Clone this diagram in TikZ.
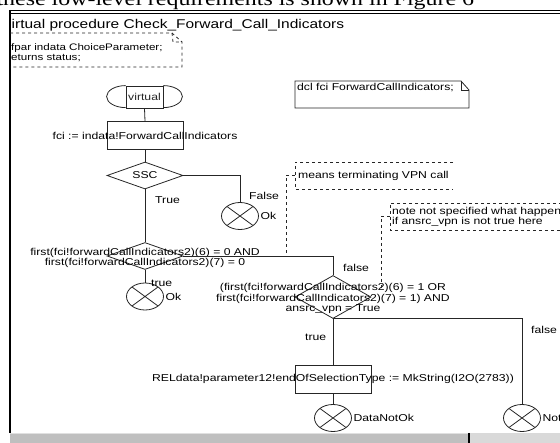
\documentclass[tikz,border=0pt]{standalone}
\usepackage{fontspec}
\setmainfont{Liberation Serif}
\newfontfamily\sdlfont[FakeStretch=1.22]{Liberation Sans}
\newfontfamily\docfont[FakeStretch=1.22]{Liberation Serif}
\usetikzlibrary{shapes.geometric}

\begin{document}
\begin{tikzpicture}[x=1pt, y=-1pt,
		every node/.style={font=\sdlfont\fontsize{10}{10.5}\selectfont, inner sep=0pt},
		sdlline/.style={line width=0.8pt, color=black!85},
		taskbox/.style={draw, sdlline, rectangle, minimum width=76pt, minimum height=28pt},
		decision/.style={draw, sdlline, diamond, minimum width=76pt, minimum height=27pt},
		stopsym/.style={draw, sdlline, ellipse, minimum width=37pt, minimum height=27pt,
			path picture={\draw[sdlline] (path picture bounding box.north west) -- (path picture bounding box.south east)
				(path picture bounding box.north east) -- (path picture bounding box.south west);}},
		commentline/.style={sdlline, dash pattern=on 3pt off 3pt}]
			%%%%% START %%%%%
			\useasboundingbox (0, 0) rectangle (560, 443);
			
			\node[anchor=base west, font=\docfont\fontsize{19.6}{20}\selectfont] (doctext) at (-3.6, 5.5) {these low-level requirements is shown in Figure 6};
			
			\draw[line width=1.3pt] (10, 10.6) -- (562, 10.6);
			\draw[line width=0.8pt] (10, 13.4) -- (562, 13.4);
			\draw[line width=2pt] (10, 9.8) -- (10, 433);
			
			\node[anchor=base west, font=\sdlfont\fontsize{12.7}{13}\selectfont] (title) at (11.5, 29) {irtual procedure Check\_Forward\_Call\_Indicators};
			
			\draw[commentline] (10, 33) -- (172, 33) -- (182, 42) -- (182, 67) -- (10, 67);
			\draw[commentline] (172, 33) -- (173, 42) -- (182, 42);
			\node[anchor=base west, align=left, font=\sdlfont\fontsize{9.5}{10.5}\selectfont] (fpar) at (11, 61) {fpar indata ChoiceParameter;\\eturns status;};
			
			\draw[sdlline] (295, 81) -- (461, 81) -- (469, 90) -- (469, 108) -- (295, 108) -- cycle;
			\draw[sdlline] (461, 81) -- (461, 90) -- (469, 90);
			\node[anchor=base west] (dcl) at (297, 91) {dcl fci ForwardCallIndicators;};
			
			% start symbol
			\node[draw, sdlline, minimum width=37pt, minimum height=22pt] (start) at (144.5, 97) {virtual};
			\draw[sdlline] (start.north west) arc[start angle=90, end angle=270, x radius=19pt, y radius=11pt];
			\draw[sdlline] (start.north east) arc[start angle=90, end angle=-90, x radius=19pt, y radius=11pt];
			
			\node[taskbox, label={center:fci := indata!ForwardCallIndicators}] (assign) at (145, 135.5) {};
			\node[decision, label={center:SSC}] (ssc) at (145, 175.5) {};
			\node[stopsym, label={[xshift=1.5pt]east:Ok}] (okA) at (240, 216) {};
			
			\node[decision, label={[align=center, yshift=-2pt]center:first(fci!forwardCallIndicators2)(6) = 0 AND\\first(fci!forwardCallIndicators2)(7) = 0}] (firstzero) at (145, 256) {};
			\node[stopsym, label={[xshift=1.5pt]east:Ok}] (okB) at (145, 296.5) {};
			
			\node[decision, minimum height=43pt, label={[align=center, yshift=-1.5pt]center:(first(fci!forwardCallIndicators2)(6) = 1 OR\\first(fci!forwardCallIndicators2)(7) = 1) AND\\ansrc\_vpn = True}] (vpncheck) at (333, 297) {};
			
			\node[taskbox, label={center:RELdata!parameter12!endOfSelectionType := MkString(I2O(2783))}] (setrel) at (333, 379) {};
			\node[stopsym, label={[xshift=1.5pt]east:DataNotOk}] (dataok) at (333, 418) {};
			\node[stopsym, label={[xshift=1.5pt]east:Not}] (notok) at (522, 418) {};
			
			% flow lines
			\draw[sdlline] (start.south) -- (assign.north);
			\draw[sdlline] (assign.south) -- (ssc.north);
			\draw[sdlline] (ssc.east) -| (okA.north);
			\draw[sdlline] (ssc.south) -- (firstzero.north);
			\draw[sdlline] (firstzero.south) -- (okB.north);
			\draw[sdlline] (firstzero.east) -| (vpncheck.north);
			\draw[sdlline] (vpncheck.south) -- (setrel.north);
			\draw[sdlline] (vpncheck.south) -| (notok.north);
			\draw[sdlline] (setrel.south) -- (dataok.north);
			
			\node[anchor=west] (falseA) at (249, 196) {False};
			\node[anchor=west] (trueA) at (155, 200) {True};
			\node[anchor=west] (trueB) at (151, 283) {true};
			\node[anchor=west] (falseB) at (343, 268) {false};
			\node[anchor=west] (trueC) at (305, 337) {true};
			\node[anchor=west] (falseC) at (531, 330) {false};
			
			% comments
			\draw[commentline] (453, 162) -- (295, 162) -- (295, 189) -- (453, 189);
			\node[anchor=west] (vpnnote) at (298, 175.5) {means terminating VPN call};
			\coordinate (vpnjoin) at (295, 175.5);
			\coordinate (vpnfoot) at (286, 256);
			\draw[commentline] (vpnjoin) -| (vpnfoot);
			
			\draw[commentline] (562, 203) -- (390, 203) -- (390, 230) -- (562, 230);
			\node[anchor=west, align=left, font=\sdlfont\fontsize{10}{9.5}\selectfont] (vpnquery) at (392, 217) {note not specified what happen\\if ansrc\_vpn is not true here};
			\coordinate (queryjoin) at (390, 216);
			\coordinate (queryfoot) at (381, 290);
			\draw[commentline] (queryjoin) -| (queryfoot);
			
			% status bar
			\fill[black!25] (10, 433) rectangle (469, 443);
			\fill[black!12] (10, 433) rectangle (469, 434.5);
			\fill[black!15] (469, 433) rectangle (562, 443);
			\draw[line width=1.2pt] (469, 433) -- (469, 443);
			%%%%% END %%%%%
\end{tikzpicture}
\end{document}
